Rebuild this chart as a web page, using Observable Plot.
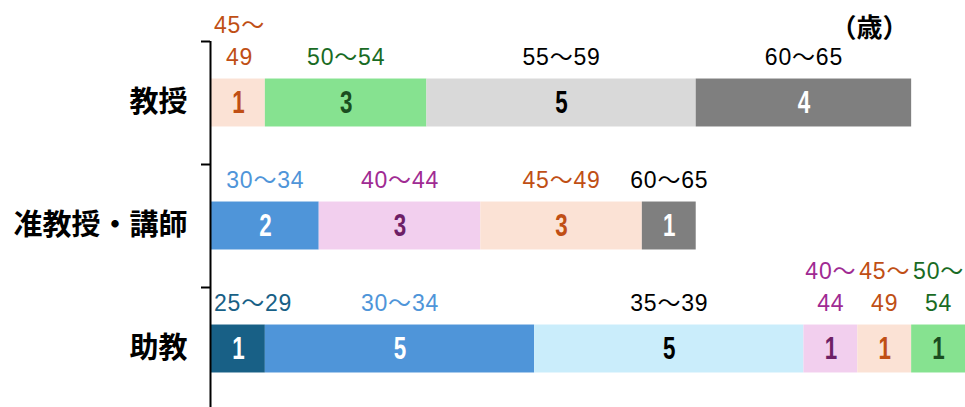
<!DOCTYPE html>
<html>
<head>
<meta charset="utf-8">
<script src="https://cdn.jsdelivr.net/npm/d3@7"></script>
<script src="https://cdn.jsdelivr.net/npm/@observablehq/plot@0.6"></script>
<style>
  html, body { margin: 0; padding: 0; background: #ffffff; }
  #chart svg { display: block; }
</style>
</head>
<body>
<div id="chart"></div>
<script>
// Staff counts by position and age bracket
const categories = ["教授", "准教授・講師", "助教"];

const professorGroups = ["45～49", "50～54", "55～59", "60～65"];
const professorCounts = [1, 3, 5, 4];
const professorWrapped = ["45～49"];

const associateGroups = ["30～34", "40～44", "45～49", "60～65"];
const associateCounts = [2, 3, 3, 1];
const associateWrapped = [];

const assistantGroups = ["25～29", "30～34", "35～39", "40～44", "45～49", "50～54"];
const assistantCounts = [1, 5, 5, 1, 1, 1];
const assistantWrapped = ["40～44", "45～49", "50～54"];

const unitLabel = "（歳）";

// Colours per age bracket: segment fill, count colour, bracket-label colour
const palette = {
  "25～29": {fill: "#186086", value: "#ffffff", label: "#186086"},
  "30～34": {fill: "#4f95d9", value: "#ffffff", label: "#4f95d9"},
  "35～39": {fill: "#caedfb", value: "#000000", label: "#000000"},
  "40～44": {fill: "#f2cfee", value: "#6e1f66", label: "#a02b93"},
  "45～49": {fill: "#fbe2d5", value: "#c04f15", label: "#c04f15"},
  "50～54": {fill: "#86e290", value: "#1a4d1f", label: "#196b24"},
  "55～59": {fill: "#d9d9d9", value: "#000000", label: "#000000"},
  "60～65": {fill: "#7f7f7f", value: "#ffffff", label: "#000000"}
};

function rowsFor(category, groups, counts, wrapped) {
  return groups.map((group, i) => ({
    category,
    group,
    count: counts[i],
    label: wrapped.includes(group) ? group.replace("～", "～\n") : group
  }));
}

const rows = [
  ...rowsFor(categories[0], professorGroups, professorCounts, professorWrapped),
  ...rowsFor(categories[1], associateGroups, associateCounts, associateWrapped),
  ...rowsFor(categories[2], assistantGroups, assistantCounts, assistantWrapped)
];

const latinFont = "'Liberation Sans', Arial, 'Noto Sans CJK JP', sans-serif";
const cjkFont = "'Noto Sans CJK JP', 'Noto Sans', sans-serif";
const countFontSize = 32;
const labelFontSize = 23;
const maxTotal = d3.max([professorCounts, associateCounts, assistantCounts], c => d3.sum(c));

const chart = Plot.plot({
  width: 965,
  height: 407,
  marginLeft: 211,
  marginRight: 0,
  marginTop: 41,
  marginBottom: 0,
  style: {background: "#ffffff", overflow: "hidden"},
  x: {domain: [0, maxTotal], axis: null},
  y: {domain: categories, range: [41, 410], paddingInner: 0.61, paddingOuter: 0.305, round: false, axis: null},
  color: {type: "identity"},
  marks: [
    // stacked segments
    Plot.barX(rows, Plot.stackX({
      x: "count",
      y: "category",
      fill: d => palette[d.group].fill
    })),
    // counts inside segments
    Plot.text(rows, Plot.stackX({
      x: "count",
      y: "category",
      text: d => String(d.count),
      fill: d => palette[d.group].value,
      fontSize: countFontSize,
      fontWeight: "bold",
      fontFamily: latinFont
    })),
    // age bracket labels above segments
    Plot.text(rows, Plot.stackX({
      x: "count",
      y: "category",
      text: "label",
      fill: d => palette[d.group].label,
      fontSize: labelFontSize,
      fontFamily: latinFont,
      lineAnchor: "bottom",
      lineHeight: 1.4,
      dy: -38
    })),
    // category names
    Plot.text(categories, {
      y: d => d,
      frameAnchor: "left",
      textAnchor: "end",
      dx: -24,
      fontSize: 29,
      fontWeight: "bold",
      fontFamily: cjkFont,
      fill: "#000000"
    }),
    // vertical axis line
    Plot.ruleX([0], {stroke: "#000000", strokeWidth: 2, dx: -1}),
    // category boundary ticks
    Plot.ruleY(categories, {
      y: d => d,
      x1: 0,
      x2: 0,
      insetLeft: -9,
      dx: -1,
      dy: -61.5,
      stroke: "#000000",
      strokeWidth: 2
    }),
    // unit label
    Plot.text([unitLabel], {
      text: d => d,
      frameAnchor: "top-right",
      textAnchor: "end",
      lineAnchor: "middle",
      dx: -57,
      dy: -13,
      fontSize: 26,
      fontWeight: "bold",
      fontFamily: cjkFont,
      fill: "#000000"
    })
  ]
});

// condensed digits for the in-bar counts
d3.select(chart).selectAll(`g[font-size="${countFontSize}"] text`).each(function () {
  const t = this.getAttribute("transform") || "";
  const x = this.getAttribute("x");
  const y = this.getAttribute("y");
  if (t) {
    this.setAttribute("transform", t + " scale(0.7,1)");
  } else if (x != null) {
    this.setAttribute("transform", `translate(${x},${y || 0}) scale(0.7,1)`);
    this.removeAttribute("x");
    this.removeAttribute("y");
  }
});

// slightly looser spacing for the bracket labels
d3.select(chart).selectAll(`g[font-size="${labelFontSize}"]`).attr("letter-spacing", "0.8px");

document.getElementById("chart").appendChild(chart);

// keep bracket labels from running past the left edge of the plot area
const plotLeft = chart.scale("x").range[0];
const svgLeft = chart.getBoundingClientRect().left;
d3.select(chart).selectAll(`g[font-size="${labelFontSize}"] text`).each(function () {
  const left = this.getBoundingClientRect().left - svgLeft;
  if (left < plotLeft + 2) {
    const t = this.getAttribute("transform") || "";
    this.setAttribute("transform", `translate(${plotLeft + 3 - left},0) ` + t);
  }
});
</script>
</body>
</html>
